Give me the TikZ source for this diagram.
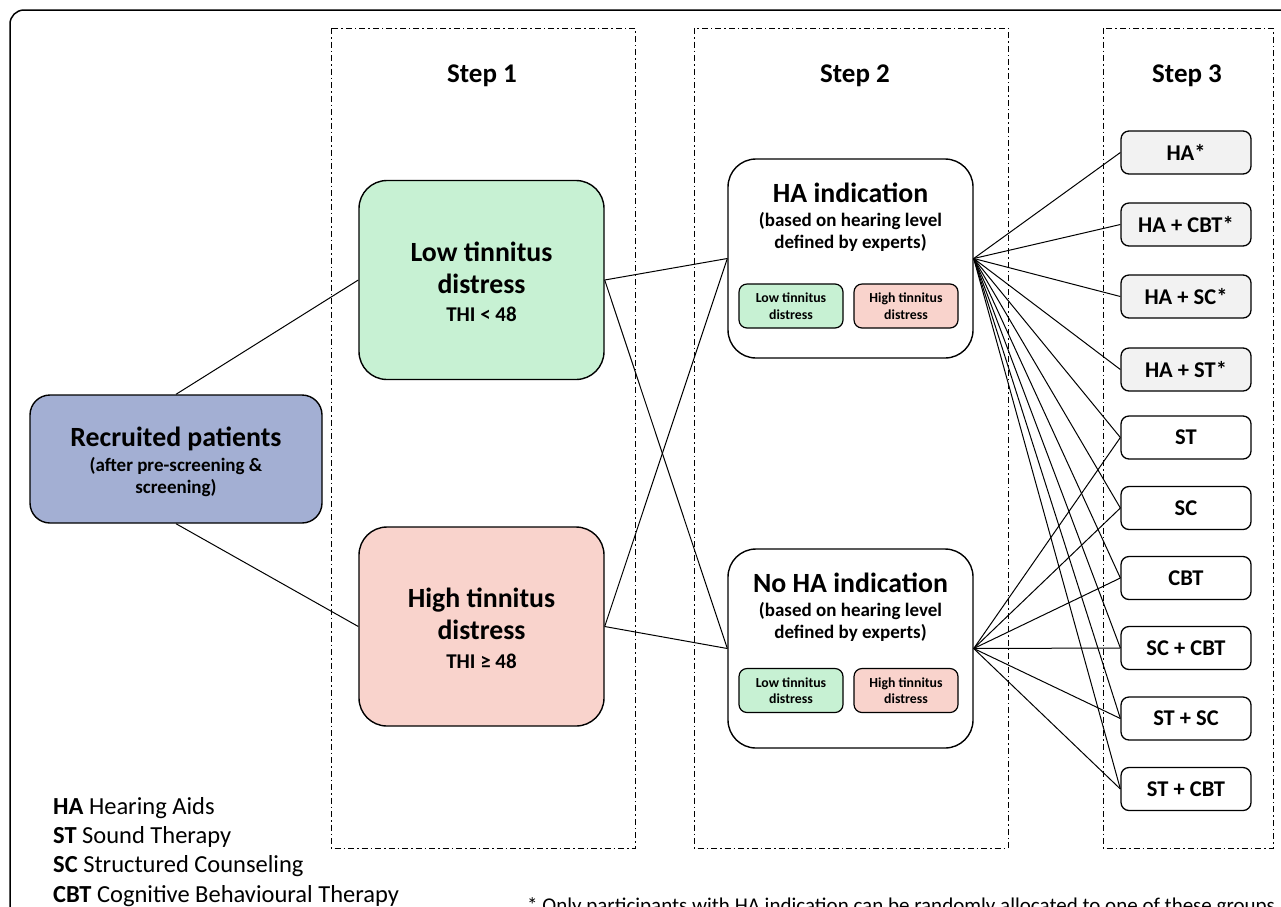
\documentclass[tikz,border=0pt]{standalone}
\usepackage{fontspec}
\setmainfont{Carlito}
\definecolor{recblue}{HTML}{A3AFD3}
\definecolor{lowgreen}{HTML}{C7F1D3}
\definecolor{highpink}{HTML}{F9D3CC}
\definecolor{hagray}{HTML}{F2F2F2}
\tikzset{
  box/.style={draw=black, line width=1.4pt, rectangle, align=center, inner sep=2pt},
  bigbox/.style={box, minimum width=245pt, minimum height=199pt, rounded corners=28pt},
  smallbox/.style={box, line width=1.2pt, minimum width=104pt, minimum height=44pt, rounded corners=8pt, font=\bfseries\fontsize{13.8}{16.5}\selectfont},
  stepbox/.style={box, line width=1.3pt, minimum width=130pt, minimum height=43pt, rounded corners=8pt, font=\bfseries\fontsize{22.5}{26}\selectfont},
  panel/.style={draw=black, line width=0.9pt, dash pattern=on 6pt off 3pt on 1.5pt off 3pt},
  txt/.style={anchor=base, inner sep=0pt},
  huge/.style={txt, font=\bfseries\fontsize{27.8}{33}\selectfont},
  mid/.style={txt, font=\bfseries\fontsize{19}{22}\selectfont},
  thi/.style={txt, font=\bfseries\fontsize{21}{24}\selectfont},
  steplabel/.style={txt, font=\bfseries\fontsize{27}{32}\selectfont},
  conn/.style={draw=black, line width=1.0pt},
}
\begin{document}
\begin{tikzpicture}[x=1pt,y=-1pt]
\useasboundingbox (0,0) rectangle (1281,906);
% outer frame
\draw[line width=1.5pt, rounded corners=14pt] (10,930) -- (10,10) -- (1320,10);
% panels
\draw[panel] (331,28) rectangle (635,848);
\draw[panel] (694,28) rectangle (1008,848);
\draw[panel] (1103,28) rectangle (1273,848);
\node[steplabel] (st1) at (482,82) {Step 1};
\node[steplabel] (st2) at (855,82) {Step 2};
\node[steplabel] (st3) at (1187,82) {Step 3};
% main nodes
\node[box, fill=recblue, minimum width=292pt, minimum height=128pt, rounded corners=20pt] (rec) at (176,459) {};
\node[huge] (recl1) at (176,446.5) {Recruited patients};
\node[mid] (recl2) at (176,471) {(after pre-screening \&};
\node[mid] (recl3) at (176,493) {screening)};
\node[bigbox, fill=lowgreen] (low) at (481.5,280) {};
\node[huge] (lowl1) at (481.5,261.5) {Low tinnitus};
\node[huge] (lowl2) at (481.5,293.5) {distress};
\node[thi] (lowl3) at (481.5,321.7) {THI < 48};
\node[bigbox, fill=highpink] (high) at (481.5,626.5) {};
\node[huge] (highl1) at (481.5,607.2) {High tinnitus};
\node[huge] (highl2) at (481.5,639.5) {distress};
\node[thi] (highl3) at (481.5,668.2) {THI ≥ 48};
\node[bigbox, fill=white] (ha) at (850.5,258.5) {};
\node[huge] (hal1) at (850.5,202.5) {HA indication};
\node[mid] (hal2) at (850.5,226) {(based on hearing level};
\node[mid] (hal3) at (850.5,248) {defined by experts)};
\node[bigbox, fill=white] (noha) at (850.5,648.5) {};
\node[huge] (nohal1) at (850.5,592.5) {No HA indication};
\node[mid] (nohal2) at (850.5,616) {(based on hearing level};
\node[mid] (nohal3) at (850.5,638) {defined by experts)};
\node[smallbox, fill=lowgreen] (halow) at (791,306) {Low tinnitus\\distress};
\node[smallbox, fill=highpink] (hahigh) at (906,306) {High tinnitus\\distress};
\node[smallbox, fill=lowgreen] (nohalow) at (791,690.5) {Low tinnitus\\distress};
\node[smallbox, fill=highpink] (nohahigh) at (906,690.5) {High tinnitus\\distress};
% step 3 boxes
\node[stepbox, fill=hagray] (t1) at (1186,152.5) {HA*};
\node[stepbox, fill=hagray] (t2) at (1186,224.5) {HA + CBT*};
\node[stepbox, fill=hagray] (t3) at (1186,296.5) {HA + SC*};
\node[stepbox, fill=hagray] (t4) at (1186,369.5) {HA + ST*};
\node[stepbox, fill=white] (t5) at (1186,437.5) {ST};
\node[stepbox, fill=white] (t6) at (1186,508) {SC};
\node[stepbox, fill=white] (t7) at (1186,578) {CBT};
\node[stepbox, fill=white] (t8) at (1186,648) {SC + CBT};
\node[stepbox, fill=white] (t9) at (1186,718.5) {ST + SC};
\node[stepbox, fill=white] (t10) at (1186,789) {ST + CBT};
% connectors
\draw[conn] (rec.north) -- (low.west);
\draw[conn] (rec.south) -- (high.west);
\draw[conn] (low.east) -- (ha.west);
\draw[conn] (low.east) -- (noha.west);
\draw[conn] (high.east) -- (ha.west);
\draw[conn] (high.east) -- (noha.west);
\foreach \t in {t1,t2,t3,t4,t5,t6,t7,t8,t9,t10} {\draw[conn] (ha.east) -- (\t.west);}
\foreach \t in {t5,t6,t7,t8,t9,t10} {\draw[conn] (noha.east) -- (\t.west);}
% legend
\node[anchor=base west, align=left, inner sep=0pt, font=\fontsize{24.5}{29.3}\selectfont] (legend) at (53,902)
  {\textbf{HA} Hearing Aids\\ \textbf{ST} Sound Therapy\\ \textbf{SC} Structured Counseling\\ \textbf{CBT} Cognitive Behavioural Therapy};
\node[anchor=base west, inner sep=0pt, font=\fontsize{21}{24}\selectfont] (foot) at (527,912)
  {* Only participants with HA indication can be randomly allocated to one of these groups};
\end{tikzpicture}
\end{document}
